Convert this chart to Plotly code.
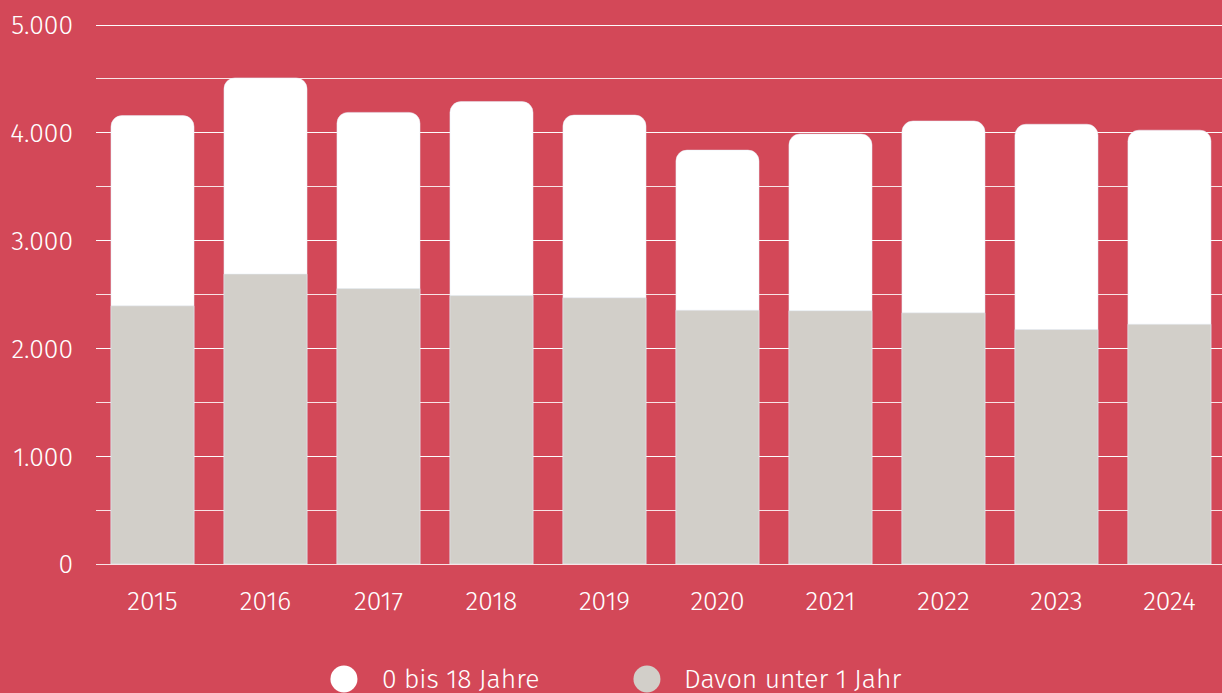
import plotly.graph_objects as go

years = ["2015", "2016", "2017", "2018", "2019", "2020", "2021", "2022", "2023", "2024"]
total_0_18 = [4160, 4510, 4190, 4290, 4165, 3840, 3990, 4110, 4080, 4025]
under_1 = [2395, 2690, 2555, 2490, 2470, 2355, 2350, 2330, 2175, 2225]
legend_labels = ["0 bis 18 Jahre", "Davon unter 1 Jahr"]

BG = "#d34858"
WHITE = "#ffffff"
GREY = "#d2cfc9"
GRID = "rgba(255,255,255,0.85)"
FONT = "Fira Sans, Roboto, Noto Sans, sans-serif"
FS = 26.5

fig = go.Figure()
fig.add_trace(go.Bar(x=years, y=total_0_18, name=legend_labels[0], marker_color=WHITE,
                     width=0.735, showlegend=False))
fig.add_trace(go.Bar(x=years, y=under_1, name=legend_labels[1], marker_color=GREY,
                     width=0.735, showlegend=False))

fig.update_layout(
    width=1222, height=693,
    paper_bgcolor=BG, plot_bgcolor=BG,
    margin=dict(l=96, r=0, t=24, b=129),
    barmode="overlay",
    barcornerradius=11,
    separators=",.",
    font=dict(family=FONT, color="white", size=FS, weight=300),
    xaxis=dict(range=[-0.5, 9.465], showgrid=False, zeroline=False, showline=False,
               ticks="", ticklabelstandoff=18,
               tickfont=dict(size=FS, color="white", family=FONT, weight=300)),
    yaxis=dict(range=[0, 5010], tickvals=[0, 1000, 2000, 3000, 4000, 5000], tickformat=",d",
               showgrid=True, gridcolor=GRID,
               gridwidth=1.2, zeroline=True, zerolinecolor=GRID, zerolinewidth=1.2,
               showline=False, ticks="", ticklabelstandoff=22,
               tickfont=dict(size=FS, color="white", family=FONT, weight=300),
               minor=dict(dtick=500, showgrid=True, gridcolor=GRID, gridwidth=1.2)),
    showlegend=False,
)

# legend drawn manually with large circles
leg_y = -0.213
for cx, tx, col, lab in [(0.2202, 0.2522, WHITE, legend_labels[0]),
                         (0.4893, 0.5204, GREY, legend_labels[1])]:
    fig.add_shape(type="circle", xref="paper", yref="paper",
                  xsizemode="pixel", ysizemode="pixel", xanchor=cx, yanchor=leg_y,
                  x0=-13.5, x1=13.5, y0=-13.5, y1=13.5,
                  fillcolor=col, line=dict(width=0))
    fig.add_annotation(x=tx, y=leg_y, xref="paper", yref="paper", text=lab,
                       showarrow=False, xanchor="left", yanchor="middle",
                       font=dict(size=FS, color="white", family=FONT, weight=300))

fig.write_html("out.html")
